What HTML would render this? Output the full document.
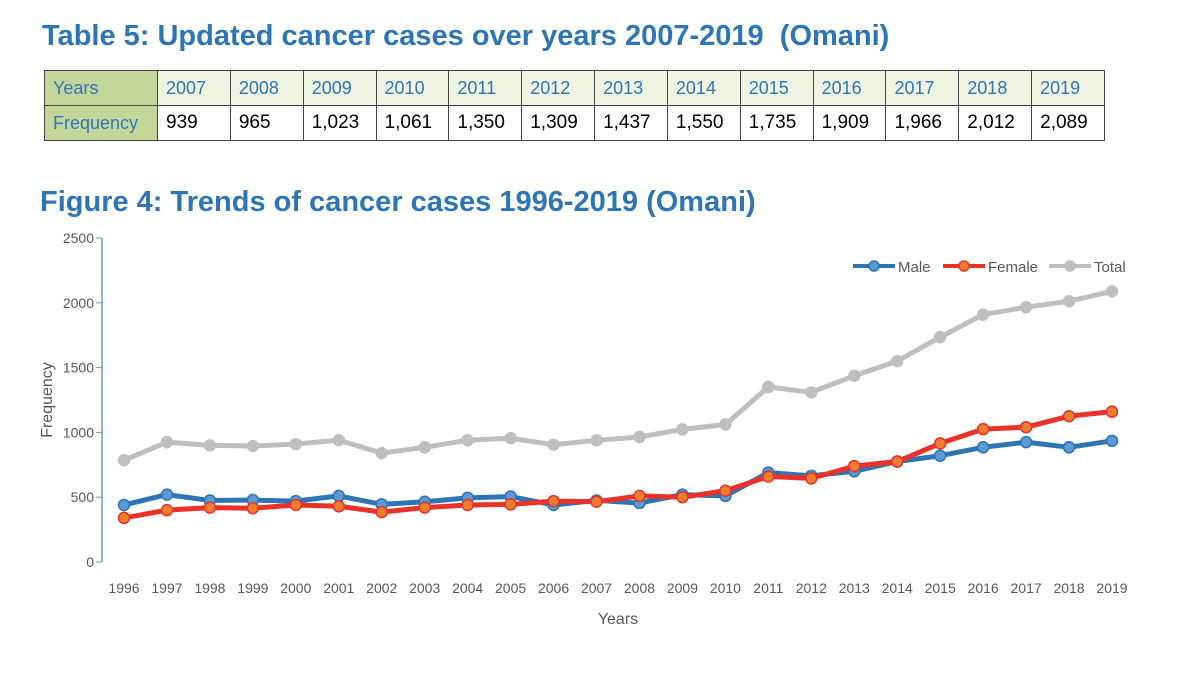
<!DOCTYPE html>
<html><head><meta charset="utf-8"><style>
body{margin:0;width:1200px;height:693px;background:#fff;font-family:"Liberation Sans",sans-serif;position:relative;overflow:hidden}
.t{position:absolute;color:#2e75b6;font-weight:bold;font-size:29px;white-space:nowrap}
table{position:absolute;left:44px;top:70px;border-collapse:collapse;width:1061px;table-layout:fixed}
td{border:1.5px solid #444;height:34px;padding:0 0 0 8px;font-size:18px;text-align:left}
tr.h td{background:#eef3e2;color:#2e75b6}
tr.f td{background:#fff;color:#000;font-family:"Liberation Sans",sans-serif;font-size:19px}
td.lab{background:#c4d79b!important;color:#2e75b6!important;width:104px}
</style></head><body>
<div class="t" style="left:42px;top:20px">Table 5: Updated cancer cases over years 2007-2019&nbsp; (Omani)</div>
<table>
<tr class="h"><td class="lab">Years</td><td>2007</td><td>2008</td><td>2009</td><td>2010</td><td>2011</td><td>2012</td><td>2013</td><td>2014</td><td>2015</td><td>2016</td><td>2017</td><td>2018</td><td>2019</td></tr>
<tr class="f"><td class="lab" style="font-size:18px">Frequency</td><td>939</td><td>965</td><td>1,023</td><td>1,061</td><td>1,350</td><td>1,309</td><td>1,437</td><td>1,550</td><td>1,735</td><td>1,909</td><td>1,966</td><td>2,012</td><td>2,089</td></tr>
</table>
<div class="t" style="left:40px;top:186px">Figure 4: Trends of cancer cases 1996-2019 (Omani)</div>
<svg id="c" width="1200" height="693" style="position:absolute;left:0;top:0"></svg>
<script>
const years=[1996,1997,1998,1999,2000,2001,2002,2003,2004,2005,2006,2007,2008,2009,2010,2011,2012,2013,2014,2015,2016,2017,2018,2019];
const male=[440,520,475,478,470,510,445,465,495,505,440,475,455,520,510,690,665,700,775,820,885,925,885,935];
const female=[340,400,420,415,440,430,385,420,440,445,470,465,510,500,550,660,645,740,775,915,1025,1040,1125,1160];
const total=[785,925,900,895,910,940,840,885,940,955,905,939,965,1023,1061,1350,1309,1437,1550,1735,1909,1966,2012,2089];
const yTicks=[0,500,1000,1500,2000,2500];
const svg=document.getElementById('c');const NS='http://www.w3.org/2000/svg';
const x=i=>124+i*(988/23);const y=v=>562-v*324/2500;
function mk(t,a){const e=document.createElementNS(NS,t);for(const k in a)e.setAttribute(k,a[k]);svg.appendChild(e);return e;}
let ax=mk('line',{x1:102,y1:238,x2:102,y2:562,stroke:'#5b9bd5','stroke-width':1.5});


yTicks.forEach(v=>{
 let tk=mk('line',{x1:96,x2:102,y1:y(v),y2:y(v),stroke:'#5b9bd5'});
 
 
 let t=mk('text',{x:94,y:y(v)+5,'text-anchor':'end','font-size':14,fill:'#595959','font-family':'Liberation Sans'});t.textContent=v;
 
 
});
years.forEach((yr,i)=>{let t=mk('text',{x:x(i),y:593,'text-anchor':'middle','font-size':14,fill:'#595959','font-family':'Liberation Sans'});t.textContent=yr;
 
 });
let xt=mk('text',{x:618,y:624,'text-anchor':'middle','font-size':16,fill:'#595959','font-family':'Liberation Sans'});xt.textContent='Years';


let yt=mk('text',{x:0,y:0,'text-anchor':'middle','font-size':16,fill:'#595959','font-family':'Liberation Sans',transform:'translate(52,400) rotate(-90)'});yt.textContent='Frequency';


const series=[[total,'#bfbfbf','#bfbfbf','#bfbfbf','total'],[male,'#2e75b6','#5b9bd5','#2e75b6','male'],[female,'#e8322a','#ed7d31','#e8322a','female']];
series.forEach(([d,lc,fc,sc,n])=>{
 let p=mk('polyline',{points:d.map((v,i)=>x(i)+','+y(v)).join(' '),fill:'none',stroke:lc,'stroke-width':5,'stroke-linejoin':'round'});
 
 
 d.forEach((v,i)=>{let c=mk('circle',{cx:x(i),cy:y(v),r:5.5,fill:fc,stroke:sc,'stroke-width':1.5});
 
 });
});
const leg=[['Male','#2e75b6','#5b9bd5',853],['Female','#e8322a','#ed7d31',943],['Total','#bfbfbf','#bfbfbf',1049]];
leg.forEach(([n,lc,fc,lx])=>{
 let l=mk('line',{x1:lx,x2:lx+42,y1:266,y2:266,stroke:lc,'stroke-width':4});
 
 
 mk('circle',{cx:lx+21,cy:266,r:5,fill:fc,stroke:lc,'stroke-width':1.5});
 let t=mk('text',{x:lx+45,y:272,'font-size':15,fill:'#595959','font-family':'Liberation Sans'});t.textContent=n;
 
 
});
</script>
</body></html>
